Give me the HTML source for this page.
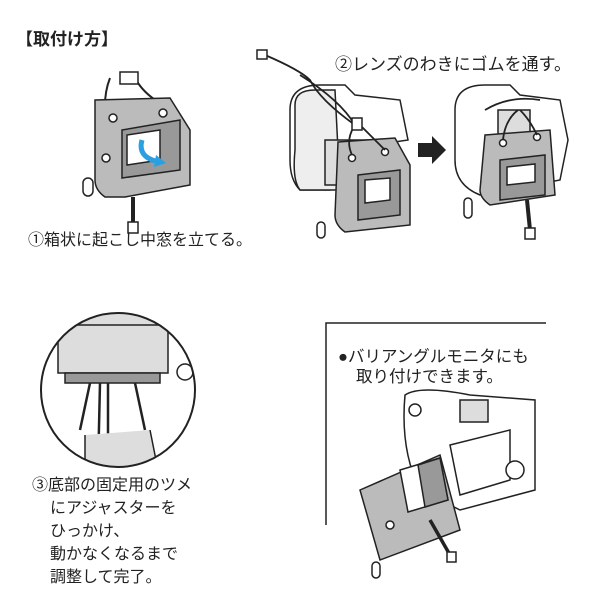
<!DOCTYPE html>
<html><head><meta charset="utf-8"><style>
html,body{margin:0;padding:0;background:#fff;}
svg{display:block;}
text{font-family:"Liberation Sans","Noto Sans CJK JP",sans-serif;fill:#222;}
</style></head><body>
<svg width="600" height="600" viewBox="0 0 600 600" xmlns="http://www.w3.org/2000/svg">
<text x="16" y="45" font-size="17" font-weight="bold">【取付け方】</text>

<!-- Box 1 -->
<g stroke="#222" stroke-width="1.5">
 <path d="M110 78 q-6 15 -5 35 M135 78 q8 15 25 25" fill="none" stroke-width="2"/>
 <rect x="120" y="72" width="18" height="12" fill="#fff"/>
 <path d="M95 100 L170 98 L190 130 L190 185 L125 197 L105 197 Q95 190 95 180 Z" fill="#bbb"/>
 <path d="M122 130 L180 120 L180 170 L122 178 Z" fill="#999"/>
 <path d="M127 135 L160 130 L160 160 L127 165 Z" fill="#fff"/>
 <circle cx="113" cy="118" r="4" fill="#fff"/><circle cx="163" cy="113" r="4" fill="#fff"/>
 <circle cx="106" cy="158" r="4" fill="#fff"/>
 <rect x="83" y="178" width="10" height="18" rx="5" fill="none"/>
 <path d="M133 197 L133 225" stroke-width="4" fill="none"/>
 <rect x="128" y="222" width="10" height="11" fill="#fff"/>
</g>
<path d="M142 140 q-5 18 18 22" stroke="#2aa0e0" stroke-width="5" fill="none"/>
<path d="M156 155 l10 8 -12 4 z" fill="#2aa0e0"/>
<text x="28" y="245" font-size="16">①箱状に起こし中窓を立てる。</text>

<!-- Camera 2 -->
<g stroke="#222" stroke-width="1.5">
 <path d="M290 110 Q290 85 320 85 L345 85 L355 95 L400 100 L408 140 L340 150 L330 190 L300 190 Q290 180 290 160 Z" fill="#fff"/>
 <path d="M295 105 q0 -15 20 -15 l20 0 l5 100 l-40 0 q-8 -10 -5 -40z" fill="#eee"/>
 <rect x="325" y="140" width="45" height="45" fill="#ddd"/>
 <path d="M338 142 L395 138 L410 165 L410 225 L345 232 Q335 225 335 215 Z" fill="#bbb"/>
 <path d="M358 175 L400 170 L400 215 L358 220 Z" fill="#999"/>
 <path d="M365 180 L390 178 L390 200 L365 203 Z" fill="#fff"/>
 <circle cx="352" cy="158" r="3.5" fill="#fff"/><circle cx="385" cy="152" r="3.5" fill="#fff"/>
 <path d="M265 55 Q300 70 310 80 Q320 100 355 125 M300 75 Q340 100 355 125 M355 125 Q345 140 352 155 M360 125 Q375 140 385 150" fill="none" stroke-width="1.8"/>
 <rect x="257" y="50" width="10" height="9" fill="#fff"/>
 <rect x="352" y="118" width="10" height="12" fill="#fff"/>
 <rect x="317" y="222" width="8" height="16" rx="4" fill="none"/>
</g>
<text x="335" y="70" font-size="17">②レンズのわきにゴムを通す。</text>
<path d="M418 143 h14 v-7 l14 14 -14 14 v-7 h-14z" fill="#222"/>

<!-- Camera 3 -->
<g stroke="#222" stroke-width="1.5">
 <path d="M455 110 Q455 85 485 85 L510 85 L520 95 L560 100 L568 140 L560 180 L480 195 Q455 185 455 160 Z" fill="#fff"/>
 <rect x="498" y="110" width="32" height="28" fill="#ddd"/>
 <path d="M485 135 L550 130 L555 195 L490 205 Q480 198 480 190 Z" fill="#bbb"/>
 <path d="M500 160 L545 155 L545 195 L500 200 Z" fill="#999"/>
 <path d="M507 167 L535 164 L535 182 L507 185 Z" fill="#fff"/>
 <circle cx="503" cy="143" r="3.5" fill="#fff"/><circle cx="537" cy="137" r="3.5" fill="#fff"/>
 <path d="M485 110 Q510 95 540 100 M503 140 Q505 120 518 110 M537 135 Q530 120 520 110" fill="none" stroke-width="1.8"/>
 <path d="M527 200 L530 230" stroke-width="4"/>
 <rect x="525" y="228" width="10" height="11" fill="#fff"/>
 <rect x="464" y="198" width="8" height="20" rx="4" fill="none"/>
</g>

<!-- Circle detail -->
<g stroke="#222" stroke-width="1.5">
 <clipPath id="c"><circle cx="118" cy="390" r="77"/></clipPath>
 <g clip-path="url(#c)">
  <rect x="40" y="300" width="160" height="200" fill="#fff"/>
  <rect x="60" y="308" width="110" height="20" fill="#ddd"/>
  <rect x="58" y="325" width="110" height="48" fill="#ddd"/>
  <rect x="65" y="373" width="95" height="10" fill="#999"/>
  <path d="M90 383 L80 430 M100 383 L98 470 M108 383 L108 470 M135 383 L145 430" stroke-width="2.5" fill="none"/>
  <path d="M85 435 L85 480 L160 480 L150 430" fill="#ddd"/>
  <circle cx="185" cy="372" r="8" fill="#fff"/>
 </g>
 <circle cx="118" cy="390" r="77" fill="none" stroke-width="2"/>
</g>
<g font-size="16">
<text x="32" y="490">③底部の固定用のツメ</text>
<text x="50" y="513">にアジャスターを</text>
<text x="50" y="536">ひっかけ、</text>
<text x="50" y="559">動かなくなるまで</text>
<text x="50" y="582">調整して完了。</text>
</g>

<!-- Frame -->
<path d="M326 525 V323 H546" stroke="#222" stroke-width="1.5" fill="none"/>
<text x="338" y="362" font-size="16.5">●バリアングルモニタにも</text>
<text x="356" y="382" font-size="16.5">取り付けできます。</text>
<g stroke="#222" stroke-width="1.5">
 <path d="M405 395 Q420 385 470 395 L535 400 L535 490 L460 510 L420 490 Q400 450 405 395Z" fill="#fff"/>
 <path d="M450 445 L510 430 L510 480 L460 495 Z" fill="#fff"/>
 <circle cx="415" cy="410" r="6" fill="#fff"/>
 <rect x="460" y="400" width="28" height="22" fill="#ddd"/>
 <circle cx="515" cy="470" r="9" fill="#fff"/>
 <path d="M360 490 L440 455 L460 530 L380 560 Z" fill="#bbb"/>
 <path d="M400 470 L440 458 L448 500 L408 512 Z" fill="#fff"/>
 <path d="M418 465 L440 458 L448 500 L425 507 Z" fill="#999"/>
 <circle cx="390" cy="525" r="4" fill="#fff"/>
 <path d="M430 520 L450 555" stroke-width="3.5"/>
 <rect x="447" y="552" width="9" height="10" fill="#fff"/>
 <rect x="372" y="562" width="8" height="16" rx="4" fill="none"/>
</g>
</svg>
</body></html>
